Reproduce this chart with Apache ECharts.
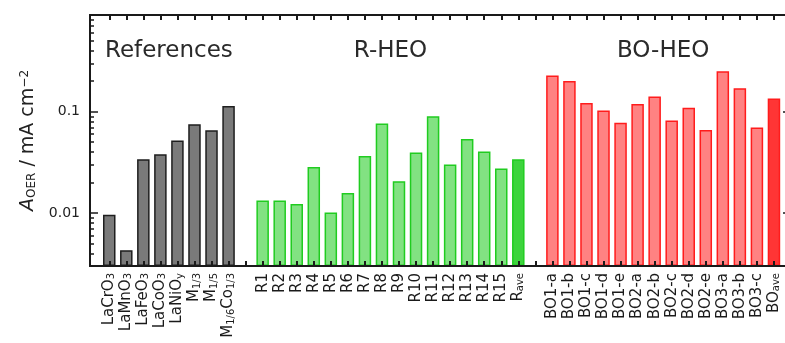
<!DOCTYPE html>
<html>
<head>
<meta charset="utf-8">
<script src="https://cdn.jsdelivr.net/npm/echarts@6/dist/echarts.min.js"></script>
<style>
  html, body { margin: 0; padding: 0; background: #fff; }
  #aoer-chart { width: 785px; height: 343px; }
</style>
</head>
<body>
<div id="aoer-chart"></div>
<script>
// reference oxides
const refLabels = ['LaCrO{s|3}', 'LaMnO{s|3}', 'LaFeO{s|3}', 'LaCoO{s|3}', 'LaNiO{s|y}', 'M{s|1/3}', 'M{s|1/5}', 'M{s|1/6}Co{s|1/3}'];
const refValues = [0.0096, 0.0043, 0.034, 0.038, 0.052, 0.075, 0.0655, 0.114];

// R-HEO samples + average
const rLabels = ['R1', 'R2', 'R3', 'R4', 'R5', 'R6', 'R7', 'R8', 'R9', 'R10', 'R11', 'R12', 'R13', 'R14', 'R15', 'R{s|ave}'];
const rValues = [0.0133, 0.0133, 0.0123, 0.0284, 0.0101, 0.0158, 0.0366, 0.0764, 0.0206, 0.0395, 0.0904, 0.0302, 0.0537, 0.0404, 0.0275, 0.0339];

// BO-HEO samples + average
const boLabels = ['BO1-a', 'BO1-b', 'BO1-c', 'BO1-d', 'BO1-e', 'BO2-a', 'BO2-b', 'BO2-c', 'BO2-d', 'BO2-e', 'BO3-a', 'BO3-b', 'BO3-c', 'BO{s|ave}'];
const boValues = [0.227, 0.201, 0.122, 0.103, 0.0776, 0.119, 0.141, 0.0818, 0.1096, 0.066, 0.251, 0.17, 0.0697, 0.135];

const groupTitles = ['References', 'R-HEO', 'BO-HEO'];
const yMajorTicks = [0.01, 0.1];

// one empty slot between groups
const categories = [...refLabels, '', ...rLabels, '', ...boLabels];
const refStart = 0;
const rStart = refLabels.length + 1;
const boStart = rStart + rLabels.length + 1;

const tickIdx = categories.map((c, i) => i);
const labelIdx = tickIdx.filter(i => categories[i] !== '');

// log minor ticks 2..9 of each decade
const yMinorTicks = [];
[0.001, 0.01, 0.1].forEach(d => {
  for (let k = 2; k <= 9; k++) yMinorTicks.push(+(d * k).toPrecision(3));
});

const yMin = 0.003, yMax = 0.9;
const xMin = -1.13, xMax = categories.length;

function barData(values, start, aveStyle) {
  return values.map((v, i) => {
    const item = { value: [start + i, v] };
    if (aveStyle && i === values.length - 1) item.itemStyle = aveStyle;
    return item;
  });
}

const font = 'DejaVu Sans';
const axisColor = '#1a1a1a';

function yAxisDef(pos, ticks, len, withLabels) {
  return {
    type: 'log',
    min: yMin,
    max: yMax,
    startValue: yMin,
    position: pos,
    z: 10,
    axisLine: { show: true, onZero: false, lineStyle: { color: axisColor, width: 2 } },
    axisTick: { show: true, inside: true, length: len, customValues: ticks, lineStyle: { color: axisColor, width: 1.5 } },
    axisLabel: withLabels ? {
      customValues: yMajorTicks,
      margin: 10,
      fontFamily: font,
      fontSize: 14,
      color: '#222',
      formatter: v => String(+(+v).toPrecision(2))
    } : { show: false },
    splitLine: { show: false },
    minorTick: { show: false }
  };
}

function xAxisDef(pos, withLabels) {
  return {
    type: 'value',
    min: xMin,
    max: xMax,
    position: pos,
    z: 10,
    axisLine: { show: true, onZero: false, lineStyle: { color: axisColor, width: 2 } },
    axisTick: { show: true, inside: true, length: 5, customValues: tickIdx, lineStyle: { color: axisColor, width: 2 } },
    axisLabel: withLabels ? {
      customValues: labelIdx,
      rotate: 90,
      margin: 7,
      fontFamily: font,
      fontSize: 15,
      color: '#1a1a1a',
      formatter: v => categories[Math.round(v)],
      rich: {
        s: { fontFamily: font, fontSize: 10, verticalAlign: 'bottom', color: '#1a1a1a' }
      }
    } : { show: false },
    splitLine: { show: false }
  };
}

const yName = '{i|A}{sub|OER} / mA cm{sup|−2}';

const yAxes = [
  yAxisDef('left', yMajorTicks, 8, true),
  yAxisDef('left', yMinorTicks, 4, false),
  yAxisDef('right', yMajorTicks, 8, false),
  yAxisDef('right', yMinorTicks, 4, false)
];
Object.assign(yAxes[0], {
  name: yName,
  nameLocation: 'middle',
  nameRotate: 90,
  nameGap: 42,
  nameTextStyle: {
    fontFamily: font,
    fontSize: 19,
    color: '#222',
    rich: {
      i: { fontFamily: font, fontSize: 19, fontStyle: 'italic', color: '#222' },
      sub: { fontFamily: font, fontSize: 12, verticalAlign: 'bottom', color: '#222' },
      sup: { fontFamily: font, fontSize: 12, verticalAlign: 'top', color: '#222' }
    }
  }
});

const chart = echarts.init(document.getElementById('aoer-chart'));

const option = {
  animation: false,
  backgroundColor: '#fff',
  grid: { left: 90, right: -6, top: 15, bottom: 77, containLabel: false, outerBoundsMode: 'none' },
  xAxis: [xAxisDef('bottom', true), xAxisDef('top', false)],
  yAxis: yAxes,
  series: [
    {
      name: 'References',
      type: 'bar',
      barWidth: 12.5,
      barGap: '-100%',
      itemStyle: { color: '#7a7a7a', borderColor: '#1e1e1e', borderWidth: 1.5 },
      data: barData(refValues, refStart)
    },
    {
      name: 'R-HEO',
      type: 'bar',
      barWidth: 12.5,
      barGap: '-100%',
      itemStyle: { color: '#82e282', borderColor: '#20cc20', borderWidth: 1.5 },
      data: barData(rValues, rStart, { color: '#3dd43d' })
    },
    {
      name: 'BO-HEO',
      type: 'bar',
      barWidth: 12.5,
      barGap: '-100%',
      itemStyle: { color: '#ff8282', borderColor: '#ff1c1c', borderWidth: 1.5 },
      data: barData(boValues, boStart, { color: '#ff3535' })
    }
  ]
};
chart.setOption(option);

// group titles centred over each group
const groups = [
  [refStart, refLabels.length],
  [rStart, rLabels.length],
  [boStart, boLabels.length]
];
chart.setOption({
  graphic: groups.map((g, i) => ({
    type: 'text',
    x: chart.convertToPixel({ xAxisIndex: 0 }, g[0] + (g[1] - 1) / 2),
    y: 51,
    style: {
      text: groupTitles[i],
      fontFamily: font,
      fontSize: 23,
      fill: '#2a2a2a',
      align: 'center',
      verticalAlign: 'middle'
    }
  }))
});
</script>
</body>
</html>
